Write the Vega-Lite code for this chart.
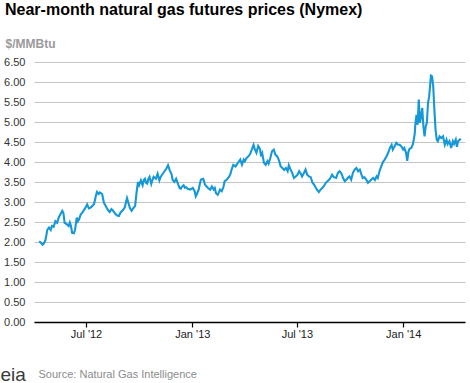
{
  "$schema": "https://vega.github.io/schema/vega-lite/v6.json",
  "autosize": {"type": "none"},
  "padding": {"left": 34, "top": 62, "right": 5, "bottom": 61},
  "width": 431,
  "height": 260,
  "background": "white",
  "title": {
    "text": "Near-month natural gas futures prices (Nymex)",
    "anchor": "start",
    "frame": "group",
    "fontSize": 16,
    "fontWeight": "bold",
    "color": "#000000",
    "font": "Liberation Sans",
    "dx": -29,
    "offset": 19
  },
  "config": {
    "view": {"stroke": null},
    "font": "Liberation Sans"
  },
  "data": {
    "values": [
      {"date": "2012-04-11", "price": 2.02},
      {"date": "2012-04-14", "price": 1.98},
      {"date": "2012-04-17", "price": 1.93},
      {"date": "2012-04-19", "price": 1.96},
      {"date": "2012-04-22", "price": 2.06},
      {"date": "2012-04-25", "price": 2.30},
      {"date": "2012-04-28", "price": 2.36},
      {"date": "2012-05-01", "price": 2.30},
      {"date": "2012-05-03", "price": 2.40},
      {"date": "2012-05-06", "price": 2.38},
      {"date": "2012-05-09", "price": 2.52},
      {"date": "2012-05-12", "price": 2.48},
      {"date": "2012-05-15", "price": 2.62},
      {"date": "2012-05-18", "price": 2.70},
      {"date": "2012-05-21", "price": 2.78},
      {"date": "2012-05-23", "price": 2.72},
      {"date": "2012-05-25", "price": 2.48},
      {"date": "2012-05-29", "price": 2.44},
      {"date": "2012-06-01", "price": 2.40},
      {"date": "2012-06-03", "price": 2.49},
      {"date": "2012-06-05", "price": 2.40},
      {"date": "2012-06-07", "price": 2.23},
      {"date": "2012-06-10", "price": 2.22},
      {"date": "2012-06-12", "price": 2.30},
      {"date": "2012-06-15", "price": 2.61},
      {"date": "2012-06-17", "price": 2.52},
      {"date": "2012-06-19", "price": 2.57},
      {"date": "2012-06-22", "price": 2.69},
      {"date": "2012-06-25", "price": 2.74},
      {"date": "2012-06-28", "price": 2.81},
      {"date": "2012-07-01", "price": 2.88},
      {"date": "2012-07-03", "price": 2.94},
      {"date": "2012-07-06", "price": 2.84},
      {"date": "2012-07-09", "price": 2.86},
      {"date": "2012-07-12", "price": 2.90},
      {"date": "2012-07-15", "price": 2.95},
      {"date": "2012-07-18", "price": 3.15},
      {"date": "2012-07-20", "price": 3.25},
      {"date": "2012-07-23", "price": 3.20},
      {"date": "2012-07-25", "price": 3.24},
      {"date": "2012-07-29", "price": 3.20},
      {"date": "2012-08-01", "price": 2.98},
      {"date": "2012-08-03", "price": 2.93},
      {"date": "2012-08-06", "price": 2.85},
      {"date": "2012-08-09", "price": 2.78},
      {"date": "2012-08-11", "price": 2.75},
      {"date": "2012-08-14", "price": 2.82},
      {"date": "2012-08-17", "price": 2.78},
      {"date": "2012-08-21", "price": 2.70},
      {"date": "2012-08-24", "price": 2.66},
      {"date": "2012-08-27", "price": 2.65},
      {"date": "2012-08-30", "price": 2.74},
      {"date": "2012-09-03", "price": 2.80},
      {"date": "2012-09-06", "price": 2.86},
      {"date": "2012-09-10", "price": 3.10},
      {"date": "2012-09-13", "price": 2.95},
      {"date": "2012-09-15", "price": 2.85},
      {"date": "2012-09-18", "price": 2.78},
      {"date": "2012-09-21", "price": 2.85},
      {"date": "2012-09-24", "price": 2.90},
      {"date": "2012-09-27", "price": 3.30},
      {"date": "2012-09-29", "price": 3.50},
      {"date": "2012-10-01", "price": 3.42},
      {"date": "2012-10-04", "price": 3.54},
      {"date": "2012-10-07", "price": 3.42},
      {"date": "2012-10-09", "price": 3.55},
      {"date": "2012-10-11", "price": 3.58},
      {"date": "2012-10-13", "price": 3.48},
      {"date": "2012-10-15", "price": 3.46},
      {"date": "2012-10-17", "price": 3.58},
      {"date": "2012-10-19", "price": 3.63},
      {"date": "2012-10-22", "price": 3.45},
      {"date": "2012-10-24", "price": 3.55},
      {"date": "2012-10-26", "price": 3.63},
      {"date": "2012-10-30", "price": 3.58},
      {"date": "2012-11-02", "price": 3.71},
      {"date": "2012-11-05", "price": 3.54},
      {"date": "2012-11-07", "price": 3.62},
      {"date": "2012-11-09", "price": 3.67},
      {"date": "2012-11-13", "price": 3.75},
      {"date": "2012-11-17", "price": 3.83},
      {"date": "2012-11-20", "price": 3.92},
      {"date": "2012-11-23", "price": 3.79},
      {"date": "2012-11-26", "price": 3.70},
      {"date": "2012-11-28", "price": 3.55},
      {"date": "2012-12-01", "price": 3.50},
      {"date": "2012-12-04", "price": 3.58},
      {"date": "2012-12-08", "price": 3.42},
      {"date": "2012-12-10", "price": 3.35},
      {"date": "2012-12-12", "price": 3.33},
      {"date": "2012-12-14", "price": 3.38},
      {"date": "2012-12-17", "price": 3.42},
      {"date": "2012-12-19", "price": 3.36},
      {"date": "2012-12-21", "price": 3.37},
      {"date": "2012-12-24", "price": 3.33},
      {"date": "2012-12-28", "price": 3.31},
      {"date": "2013-01-02", "price": 3.35},
      {"date": "2013-01-05", "price": 3.27},
      {"date": "2013-01-07", "price": 3.14},
      {"date": "2013-01-09", "price": 3.20},
      {"date": "2013-01-12", "price": 3.31},
      {"date": "2013-01-14", "price": 3.45},
      {"date": "2013-01-16", "price": 3.56},
      {"date": "2013-01-20", "price": 3.58},
      {"date": "2013-01-23", "price": 3.43},
      {"date": "2013-01-25", "price": 3.40},
      {"date": "2013-01-28", "price": 3.35},
      {"date": "2013-02-01", "price": 3.31},
      {"date": "2013-02-04", "price": 3.39},
      {"date": "2013-02-07", "price": 3.31},
      {"date": "2013-02-09", "price": 3.35},
      {"date": "2013-02-11", "price": 3.22},
      {"date": "2013-02-14", "price": 3.18},
      {"date": "2013-02-16", "price": 3.24},
      {"date": "2013-02-18", "price": 3.31},
      {"date": "2013-02-21", "price": 3.27},
      {"date": "2013-02-24", "price": 3.38},
      {"date": "2013-02-26", "price": 3.52},
      {"date": "2013-03-02", "price": 3.56},
      {"date": "2013-03-06", "price": 3.64},
      {"date": "2013-03-08", "price": 3.70},
      {"date": "2013-03-10", "price": 3.81},
      {"date": "2013-03-13", "price": 3.93},
      {"date": "2013-03-17", "price": 3.89},
      {"date": "2013-03-21", "price": 3.98},
      {"date": "2013-03-25", "price": 4.06},
      {"date": "2013-03-28", "price": 3.93},
      {"date": "2013-03-31", "price": 4.06},
      {"date": "2013-04-02", "price": 4.02},
      {"date": "2013-04-05", "price": 4.10},
      {"date": "2013-04-08", "price": 4.14},
      {"date": "2013-04-11", "price": 4.20},
      {"date": "2013-04-14", "price": 4.31},
      {"date": "2013-04-17", "price": 4.43},
      {"date": "2013-04-19", "price": 4.33},
      {"date": "2013-04-22", "price": 4.23},
      {"date": "2013-04-25", "price": 4.40},
      {"date": "2013-04-28", "price": 4.33},
      {"date": "2013-04-30", "price": 4.14},
      {"date": "2013-05-02", "price": 4.22},
      {"date": "2013-05-05", "price": 3.98},
      {"date": "2013-05-08", "price": 3.93},
      {"date": "2013-05-11", "price": 4.02},
      {"date": "2013-05-13", "price": 3.96},
      {"date": "2013-05-16", "price": 4.10},
      {"date": "2013-05-19", "price": 4.27},
      {"date": "2013-05-22", "price": 4.31},
      {"date": "2013-05-25", "price": 4.18},
      {"date": "2013-05-28", "price": 4.14},
      {"date": "2013-05-31", "price": 4.04},
      {"date": "2013-06-03", "price": 3.89},
      {"date": "2013-06-06", "price": 3.85},
      {"date": "2013-06-09", "price": 3.80},
      {"date": "2013-06-12", "price": 3.85},
      {"date": "2013-06-15", "price": 3.77},
      {"date": "2013-06-17", "price": 3.92},
      {"date": "2013-06-20", "price": 3.81},
      {"date": "2013-06-23", "price": 3.73},
      {"date": "2013-06-26", "price": 3.60},
      {"date": "2013-06-29", "price": 3.64},
      {"date": "2013-07-02", "price": 3.68},
      {"date": "2013-07-05", "price": 3.77},
      {"date": "2013-07-08", "price": 3.70},
      {"date": "2013-07-10", "price": 3.64},
      {"date": "2013-07-13", "price": 3.72},
      {"date": "2013-07-16", "price": 3.81},
      {"date": "2013-07-19", "price": 3.68},
      {"date": "2013-07-22", "price": 3.64},
      {"date": "2013-07-25", "price": 3.62},
      {"date": "2013-07-28", "price": 3.48},
      {"date": "2013-07-31", "price": 3.43},
      {"date": "2013-08-03", "price": 3.35},
      {"date": "2013-08-05", "price": 3.30},
      {"date": "2013-08-08", "price": 3.25},
      {"date": "2013-08-11", "price": 3.31},
      {"date": "2013-08-14", "price": 3.35},
      {"date": "2013-08-17", "price": 3.40},
      {"date": "2013-08-20", "price": 3.48},
      {"date": "2013-08-23", "price": 3.52},
      {"date": "2013-08-26", "price": 3.56},
      {"date": "2013-08-28", "price": 3.60},
      {"date": "2013-08-31", "price": 3.68},
      {"date": "2013-09-03", "price": 3.62},
      {"date": "2013-09-07", "price": 3.60},
      {"date": "2013-09-10", "price": 3.73},
      {"date": "2013-09-13", "price": 3.77},
      {"date": "2013-09-16", "price": 3.72},
      {"date": "2013-09-19", "price": 3.60},
      {"date": "2013-09-22", "price": 3.52},
      {"date": "2013-09-25", "price": 3.56},
      {"date": "2013-09-27", "price": 3.60},
      {"date": "2013-09-30", "price": 3.64},
      {"date": "2013-10-03", "price": 3.56},
      {"date": "2013-10-06", "price": 3.73},
      {"date": "2013-10-09", "price": 3.81},
      {"date": "2013-10-12", "price": 3.85},
      {"date": "2013-10-15", "price": 3.77},
      {"date": "2013-10-18", "price": 3.81},
      {"date": "2013-10-21", "price": 3.68},
      {"date": "2013-10-23", "price": 3.60},
      {"date": "2013-10-26", "price": 3.62},
      {"date": "2013-10-29", "price": 3.56},
      {"date": "2013-11-01", "price": 3.48},
      {"date": "2013-11-04", "price": 3.52},
      {"date": "2013-11-07", "price": 3.56},
      {"date": "2013-11-10", "price": 3.60},
      {"date": "2013-11-13", "price": 3.55},
      {"date": "2013-11-16", "price": 3.64},
      {"date": "2013-11-18", "price": 3.60},
      {"date": "2013-11-21", "price": 3.77},
      {"date": "2013-11-24", "price": 3.89},
      {"date": "2013-11-27", "price": 4.00},
      {"date": "2013-11-30", "price": 4.06},
      {"date": "2013-12-03", "price": 4.14},
      {"date": "2013-12-06", "price": 4.23},
      {"date": "2013-12-09", "price": 4.35},
      {"date": "2013-12-12", "price": 4.43},
      {"date": "2013-12-14", "price": 4.31},
      {"date": "2013-12-17", "price": 4.39},
      {"date": "2013-12-20", "price": 4.48},
      {"date": "2013-12-23", "price": 4.43},
      {"date": "2013-12-26", "price": 4.43},
      {"date": "2013-12-29", "price": 4.39},
      {"date": "2014-01-01", "price": 4.31},
      {"date": "2014-01-03", "price": 4.35},
      {"date": "2014-01-06", "price": 4.23},
      {"date": "2014-01-08", "price": 4.03},
      {"date": "2014-01-10", "price": 4.25},
      {"date": "2014-01-12", "price": 4.33},
      {"date": "2014-01-15", "price": 4.35},
      {"date": "2014-01-18", "price": 4.45},
      {"date": "2014-01-21", "price": 4.70},
      {"date": "2014-01-22", "price": 4.93},
      {"date": "2014-01-24", "price": 5.18},
      {"date": "2014-01-26", "price": 4.93},
      {"date": "2014-01-28", "price": 5.56},
      {"date": "2014-01-30", "price": 4.98},
      {"date": "2014-02-01", "price": 5.14},
      {"date": "2014-02-03", "price": 5.35},
      {"date": "2014-02-05", "price": 4.89},
      {"date": "2014-02-07", "price": 4.64},
      {"date": "2014-02-09", "price": 4.89},
      {"date": "2014-02-11", "price": 4.98},
      {"date": "2014-02-13", "price": 5.48},
      {"date": "2014-02-15", "price": 5.64},
      {"date": "2014-02-17", "price": 5.98},
      {"date": "2014-02-18", "price": 6.16},
      {"date": "2014-02-20", "price": 6.14},
      {"date": "2014-02-22", "price": 5.89},
      {"date": "2014-02-24", "price": 5.31},
      {"date": "2014-02-26", "price": 4.81},
      {"date": "2014-02-28", "price": 4.56},
      {"date": "2014-03-02", "price": 4.52},
      {"date": "2014-03-05", "price": 4.64},
      {"date": "2014-03-08", "price": 4.60},
      {"date": "2014-03-11", "price": 4.64},
      {"date": "2014-03-14", "price": 4.43},
      {"date": "2014-03-17", "price": 4.56},
      {"date": "2014-03-19", "price": 4.45},
      {"date": "2014-03-22", "price": 4.52},
      {"date": "2014-03-25", "price": 4.35},
      {"date": "2014-03-28", "price": 4.52},
      {"date": "2014-03-30", "price": 4.45},
      {"date": "2014-04-02", "price": 4.56},
      {"date": "2014-04-04", "price": 4.38},
      {"date": "2014-04-06", "price": 4.52},
      {"date": "2014-04-09", "price": 4.56},
      {"date": "2014-04-11", "price": 4.58}
    ]
  },
  "encoding": {
    "x": {
      "field": "date",
      "type": "temporal",
      "scale": {
        "type": "utc",
        "domain": [
          {"year": 2012, "month": 4, "date": 2, "utc": true},
          {"year": 2014, "month": 4, "date": 18, "utc": true}
        ]
      },
      "axis": {
        "values": [
          {"year": 2012, "month": 7, "date": 1, "utc": true},
          {"year": 2013, "month": 1, "date": 1, "utc": true},
          {"year": 2013, "month": 7, "date": 1, "utc": true},
          {"year": 2014, "month": 1, "date": 1, "utc": true}
        ],
        "format": "%b '%y",
        "grid": false,
        "domainColor": "#000000",
        "domainWidth": 1.5,
        "tickColor": "#000000",
        "tickSize": 5,
        "tickWidth": 1.2,
        "labelPadding": 1,
        "labelFontSize": 11,
        "labelColor": "#222222",
        "labelFont": "Liberation Sans",
        "title": "Source: Natural Gas Intelligence",
        "titleX": 4,
        "titleY": 55,
        "titleAlign": "left",
        "titleAnchor": null,
        "titleBaseline": "alphabetic",
        "titleFontWeight": "normal",
        "titleFontSize": 11,
        "titleFont": "Liberation Sans",
        "titleColor": "#8c8c8c"
      }
    }
  },
  "layer": [
    {
      "mark": {"type": "line", "color": "#1598d8", "strokeWidth": 2.1, "clip": true},
      "encoding": {
        "y": {
          "field": "price",
          "type": "quantitative",
          "scale": {"domain": [0, 6.5], "nice": false, "zero": true},
          "axis": {
            "orient": "left",
            "values": [0, 0.5, 1, 1.5, 2, 2.5, 3, 3.5, 4, 4.5, 5, 5.5, 6, 6.5],
            "format": ".2f",
            "grid": true,
            "gridColor": "#c4c4c4",
            "gridWidth": 1,
            "domain": false,
            "ticks": false,
            "tickSize": 0,
            "labelPadding": 9,
            "labelFontSize": 11,
            "labelColor": "#333333",
            "labelFont": "Liberation Sans",
            "title": "$/MMBtu",
            "titleAngle": 0,
            "titleAlign": "left",
            "titleAnchor": null,
            "titleBaseline": "alphabetic",
            "titleX": -29,
            "titleY": -15,
            "titleFontSize": 12,
            "titleFontWeight": "bold",
            "titleFont": "Liberation Sans",
            "titleColor": "#9a9a9a"
          }
        }
      }
    },
    {
      "mark": {"type": "line", "strokeOpacity": 0},
      "encoding": {
        "y": {
          "field": "price",
          "type": "quantitative",
          "scale": {"domain": [0, 6.5], "nice": false, "zero": true},
          "axis": {
            "orient": "right",
            "grid": false,
            "domain": false,
            "ticks": false,
            "labels": false,
            "title": "eia",
            "titleAngle": 0,
            "titleAlign": "left",
            "titleAnchor": null,
            "titleBaseline": "alphabetic",
            "titleX": -465,
            "titleY": 318,
            "titleFontSize": 19,
            "titleFontWeight": "normal",
            "titleFont": "Liberation Sans",
            "titleColor": "#3a3a3a"
          }
        }
      }
    }
  ],
  "resolve": {"axis": {"y": "independent"}}
}
